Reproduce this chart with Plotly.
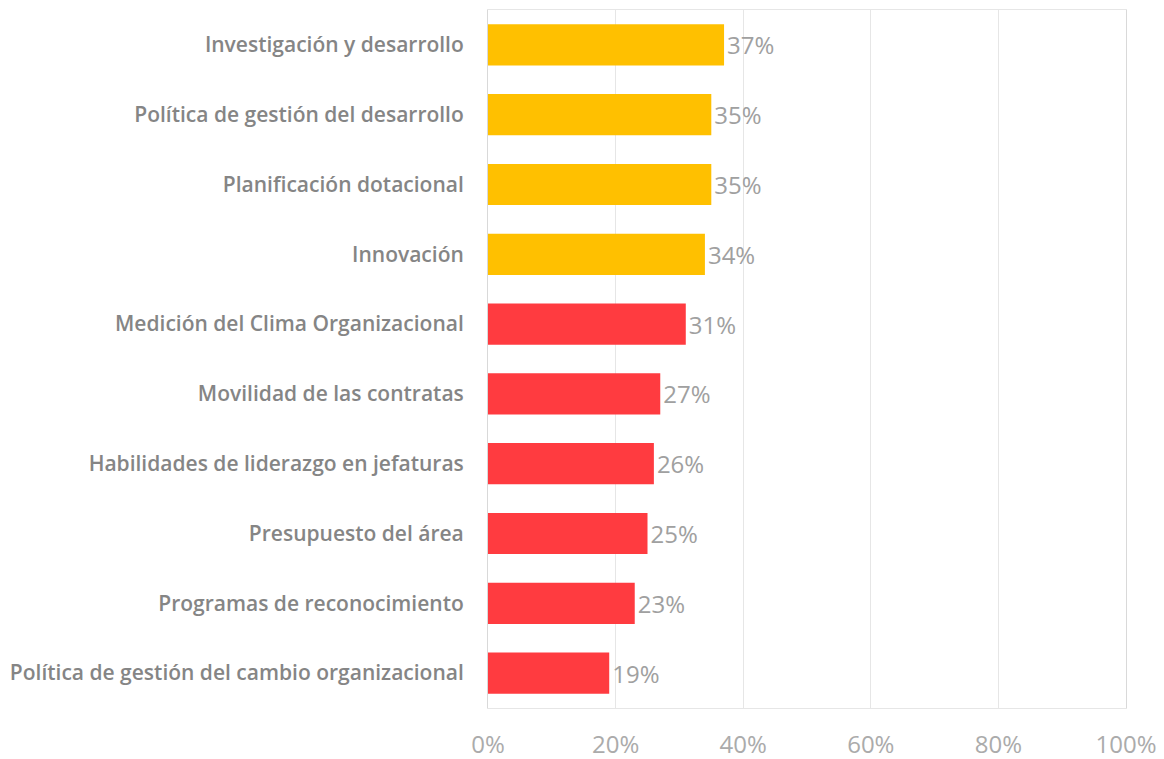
import plotly.graph_objects as go

categories = [
    "Investigación y desarrollo",
    "Política de gestión del desarrollo",
    "Planificación dotacional",
    "Innovación",
    "Medición del Clima Organizacional",
    "Movilidad de las contratas",
    "Habilidades de liderazgo en jefaturas",
    "Presupuesto del área",
    "Programas de reconocimiento",
    "Política de gestión del cambio organizacional",
]
values = [37, 35, 35, 34, 31, 27, 26, 25, 23, 19]
groups = ["high", "high", "high", "high", "low", "low", "low", "low", "low", "low"]
group_colors = {"high": "#FFC000", "low": "#FF3B40"}
tick_vals = [0, 20, 40, 60, 80, 100]
tick_text = ["0%", "20%", "40%", "60%", "80%", "100%"]

fig = go.Figure(
    go.Bar(
        y=categories,
        x=values,
        orientation="h",
        marker=dict(color=[group_colors[g] for g in groups], line=dict(width=0)),
        text=[f"{v}%" for v in values],
        textposition="outside",
        textfont=dict(family="Open Sans", size=24, color="#A0A0A0"),
        cliponaxis=False,
        hoverinfo="skip",
    )
)

fig.update_layout(
    width=1164,
    height=759,
    margin=dict(l=488, r=38, t=10, b=51),
    paper_bgcolor="white",
    plot_bgcolor="white",
    bargap=0.41,
    showlegend=False,
    xaxis=dict(
        range=[0, 100],
        tickvals=tick_vals,
        ticktext=tick_text,
        showgrid=True,
        gridcolor="#E6E6E6",
        gridwidth=1,
        zeroline=False,
        showline=True,
        linecolor="#E6E6E6",
        mirror=True,
        ticks="",
        automargin=False,
        ticklabelstandoff=15,
        tickfont=dict(family="Open Sans", size=24, color="#ABABAB"),
    ),
    yaxis=dict(
        categoryorder="array",
        categoryarray=categories[::-1],
        showgrid=False,
        showline=True,
        linecolor="#D9D9D9",
        mirror=True,
        ticks="",
        automargin=False,
        ticklabelstandoff=19,
        tickfont=dict(family="Open Sans", size=21, color="#858585", weight=600),
    ),
)

fig.write_html("out.html")
